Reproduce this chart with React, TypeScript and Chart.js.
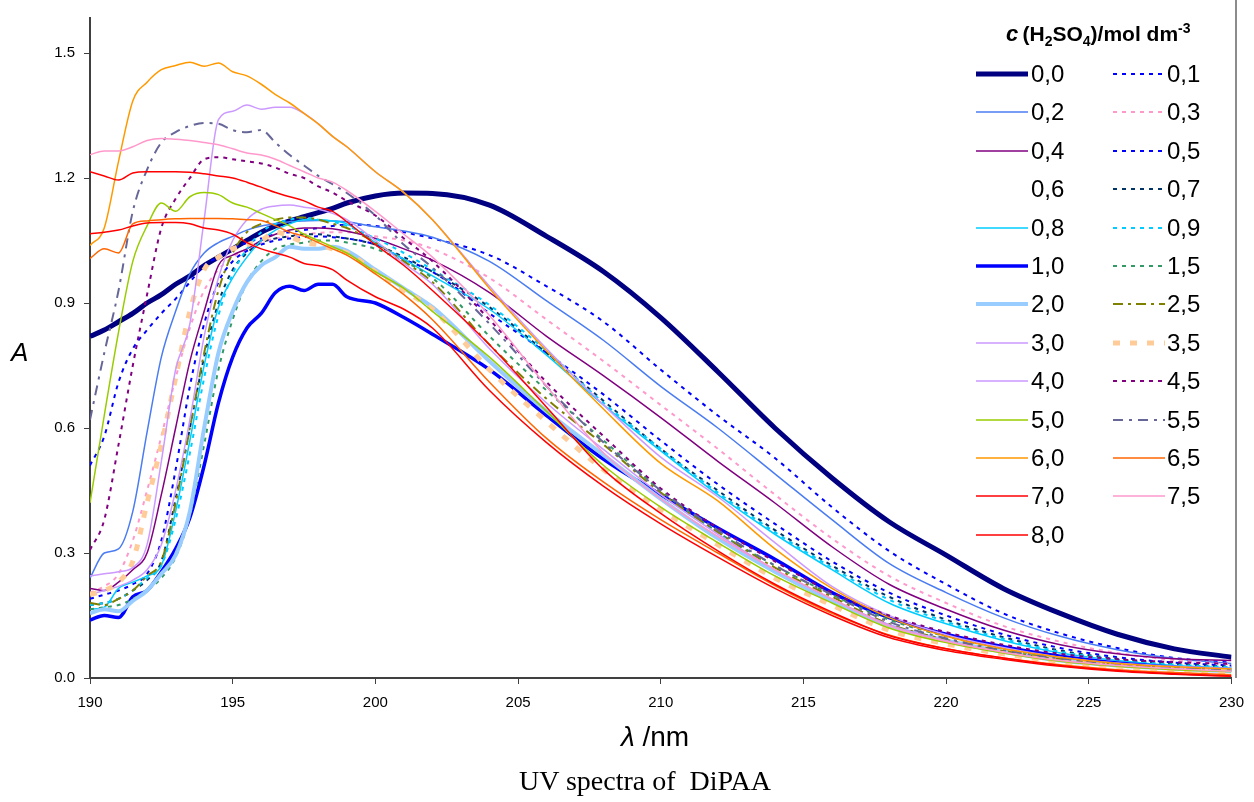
import React, { useEffect, useRef } from "react";
import { Chart, registerables } from "chart.js";
Chart.register(...registerables);

// wavelength grid (nm)
const wavelength = [190,190.5,191,191.5,192,192.5,193,193.5,194,194.5,195,195.5,196,196.5,197,197.5,198,198.5,199,200,201,202,204,206,208,210,212,214,216,218,220,222,224,226,228,230];

// absorbance series, one per H2SO4 concentration
const c00 = [0.82,0.835,0.855,0.875,0.90,0.92,0.945,0.965,0.99,1.01,1.03,1.05,1.07,1.085,1.097,1.107,1.117,1.127,1.14, 1.157,1.164,1.163, 1.135,1.06,0.975,0.865,0.735,0.60,0.48,0.375,0.295,0.215,0.155,0.105,0.07,0.05];
const c01 = [0.51,0.58,0.71,0.79,0.835,0.875,0.91,0.95,0.99,1.01,1.03,1.045,1.055,1.065,1.07,1.075,1.08,1.085,1.088, 1.085,1.07,1.055, 1.015,0.94,0.855,0.74,0.63,0.528,0.41,0.305,0.225,0.155,0.107,0.072,0.048,0.037];
const c02 = [0.24,0.30,0.31,0.40,0.59,0.77,0.88,0.97,1.02,1.045,1.06,1.075,1.085,1.09,1.095,1.097,1.098,1.097,1.095, 1.083,1.073,1.058, 1.0,0.905,0.81,0.70,0.60,0.49,0.38,0.275,0.205,0.145,0.10,0.068,0.047,0.035];
const c03 = [0.205,0.22,0.25,0.33,0.45,0.58,0.72,0.84,0.93,0.98,1.01,1.03,1.045,1.055,1.06,1.065,1.068,1.07,1.07, 1.06,1.05,1.03, 0.96,0.86,0.76,0.655,0.55,0.44,0.335,0.245,0.18,0.125,0.087,0.06,0.043,0.033];
const c04 = [0.215,0.21,0.23,0.26,0.30,0.44,0.60,0.76,0.88,0.99,1.015,1.03,1.05,1.065,1.075,1.08,1.08,1.078,1.072, 1.055,1.03,1.003, 0.925,0.82,0.725,0.625,0.52,0.42,0.315,0.225,0.165,0.115,0.08,0.058,0.046,0.042];
const c05 = [0.19,0.20,0.21,0.225,0.25,0.33,0.50,0.70,0.85,0.95,1.0,1.025,1.04,1.05,1.055,1.058,1.06,1.058,1.055, 1.04,1.005,0.975, 0.875,0.78,0.68,0.57,0.465,0.37,0.28,0.205,0.15,0.105,0.072,0.05,0.037,0.03];
const c06: number[] = [];
const c07 = [0.175,0.18,0.19,0.21,0.235,0.28,0.43,0.60,0.77,0.90,0.98,1.02,1.045,1.055,1.06,1.065,1.065,1.06,1.055, 1.04,1.01,0.975, 0.89,0.78,0.665,0.55,0.45,0.355,0.27,0.195,0.14,0.098,0.066,0.046,0.034,0.027];
const c08 = [0.165,0.17,0.215,0.23,0.245,0.27,0.40,0.57,0.75,0.89,0.96,1.01,1.05,1.075,1.09,1.1,1.1,1.097,1.09, 1.045,1.005,0.965, 0.885,0.775,0.655,0.545,0.44,0.345,0.26,0.18,0.13,0.09,0.06,0.042,0.03,0.024];
const c09 = [0.175,0.18,0.19,0.21,0.24,0.27,0.38,0.54,0.72,0.87,0.97,1.03,1.07,1.09,1.10,1.105,1.10,1.095,1.085, 1.055,1.02,0.98, 0.895,0.785,0.66,0.55,0.445,0.35,0.265,0.188,0.135,0.094,0.063,0.044,0.032,0.026];
const c10 = [0.139,0.15,0.145,0.195,0.21,0.255,0.31,0.385,0.51,0.66,0.77,0.84,0.875,0.925,0.94,0.93,0.945,0.945,0.915, 0.90,0.865,0.825, 0.74,0.63,0.525,0.44,0.36,0.285,0.205,0.145,0.105,0.075,0.052,0.036,0.026,0.02];
const c15 = [0.165,0.17,0.175,0.19,0.21,0.24,0.29,0.39,0.56,0.74,0.86,0.95,1.0,1.03,1.04,1.045,1.05,1.05,1.045, 1.03,1.0,0.96, 0.82,0.69,0.57,0.45,0.35,0.27,0.2,0.14,0.1,0.07,0.048,0.034,0.026,0.02];
const c20 = [0.155,0.165,0.16,0.185,0.21,0.25,0.295,0.40,0.60,0.78,0.88,0.95,0.99,1.01,1.035,1.03,1.03,1.035,1.025, 0.98,0.935,0.89, 0.76,0.64,0.535,0.43,0.335,0.255,0.185,0.125,0.09,0.063,0.042,0.03,0.022,0.016];
const c25 = [0.18,0.175,0.19,0.21,0.245,0.28,0.42,0.60,0.78,0.93,1.02,1.07,1.09,1.1,1.105,1.105,1.1,1.09,1.08, 1.045,1.0,0.95, 0.80,0.67,0.56,0.445,0.35,0.265,0.195,0.13,0.092,0.065,0.045,0.032,0.024,0.018];
const c30 = [0.2,0.21,0.22,0.235,0.26,0.32,0.45,0.62,0.82,0.96,1.05,1.1,1.125,1.133,1.135,1.13,1.125,1.115,1.1, 1.05,0.995,0.945, 0.79,0.66,0.548,0.44,0.345,0.26,0.19,0.128,0.09,0.062,0.042,0.03,0.022,0.016];
const c35 = [0.2,0.21,0.23,0.28,0.42,0.56,0.72,0.88,0.98,1.01,1.03,1.04,1.05,1.07,1.06,1.045,1.04,1.03,1.02, 0.975,0.93,0.885, 0.74,0.615,0.50,0.405,0.32,0.24,0.175,0.115,0.082,0.058,0.04,0.028,0.02,0.015];
const c40 = [0.245,0.25,0.255,0.265,0.32,0.52,0.74,0.85,1.1,1.34,1.36,1.375,1.365,1.37,1.37,1.355,1.33,1.30,1.275, 1.215,1.165,1.10, 0.94,0.79,0.655,0.53,0.435,0.325,0.22,0.15,0.104,0.073,0.05,0.036,0.028,0.023];
const c45 = [0.307,0.38,0.56,0.75,0.92,1.08,1.15,1.2,1.245,1.25,1.245,1.24,1.235,1.225,1.21,1.2,1.18,1.165,1.145, 1.11,1.055,1.0, 0.86,0.71,0.58,0.455,0.36,0.28,0.205,0.15,0.11,0.08,0.058,0.045,0.038,0.034];
const c50 = [0.42,0.63,0.83,1.0,1.085,1.14,1.12,1.155,1.165,1.16,1.14,1.13,1.115,1.1,1.085,1.065,1.05,1.035,1.02, 0.975,0.935,0.88, 0.77,0.64,0.51,0.41,0.325,0.245,0.18,0.12,0.085,0.06,0.04,0.028,0.02,0.015];
const c55 = [0.62,0.78,0.93,1.12,1.22,1.285,1.31,1.325,1.332,1.33,1.315,1.31,1.315,1.285,1.255,1.23,1.205,1.185,1.164, 1.11,1.04,0.985, 0.85,0.70,0.565,0.45,0.355,0.27,0.2,0.135,0.095,0.067,0.047,0.034,0.026,0.02];
const c60 = [1.038,1.08,1.24,1.385,1.43,1.46,1.47,1.478,1.468,1.476,1.455,1.445,1.425,1.40,1.38,1.355,1.33,1.30,1.275, 1.215,1.165,1.10, 0.935,0.785,0.645,0.515,0.425,0.31,0.215,0.145,0.1,0.07,0.05,0.035,0.027,0.022];
const c65 = [1.007,1.03,1.02,1.09,1.097,1.1,1.102,1.103,1.103,1.103,1.102,1.1,1.098,1.085,1.07,1.06,1.045,1.03,1.015, 0.97,0.92,0.86, 0.71,0.575,0.47,0.38,0.3,0.222,0.155,0.103,0.07,0.048,0.032,0.02,0.013,0.008];
const c70 = [1.215,1.205,1.195,1.212,1.215,1.215,1.215,1.214,1.21,1.205,1.2,1.19,1.178,1.165,1.155,1.145,1.13,1.12,1.095, 1.04,0.99,0.93, 0.80,0.65,0.50,0.395,0.305,0.225,0.158,0.102,0.07,0.048,0.03,0.018,0.01,0.005];
const c75 = [1.256,1.265,1.265,1.275,1.29,1.295,1.293,1.29,1.285,1.28,1.27,1.26,1.255,1.245,1.23,1.215,1.2,1.19,1.17, 1.12,1.065,1.01, 0.87,0.70,0.54,0.43,0.34,0.26,0.19,0.125,0.088,0.062,0.042,0.03,0.022,0.016];
const c80 = [1.066,1.07,1.075,1.085,1.092,1.093,1.093,1.09,1.08,1.075,1.065,1.045,1.03,1.02,1.01,0.995,0.99,0.98,0.955, 0.915,0.885,0.84, 0.69,0.565,0.46,0.37,0.29,0.215,0.15,0.097,0.066,0.045,0.028,0.016,0.009,0.004];

const concentrationLabels = ["0,0","0,1","0,2","0,3","0,4","0,5","0,6","0,7","0,8","0,9","1,0","1,5","2,0","2,5","3,0","3,5","4,0","4,5","5,0","5,5","6,0","6,5","7,0","7,5","8,0"];
const yTicks = [0, 0.3, 0.6, 0.9, 1.2, 1.5];

const seriesValues = [c00,c01,c02,c03,c04,c05,c06,c07,c08,c09,c10,c15,c20,c25,c30,c35,c40,c45,c50,c55,c60,c65,c70,c75,c80];

type Style = { color: string; width: number; dash: number[] };
const styles: Style[] = [
  { color: "#000080", width: 5, dash: [] },
  { color: "#0000FF", width: 2, dash: [4, 5] },
  { color: "#4A7CF2", width: 1.5, dash: [] },
  { color: "#FF99CC", width: 2, dash: [4, 5] },
  { color: "#800080", width: 1.5, dash: [] },
  { color: "#0000FF", width: 2, dash: [4, 5] },
  { color: "rgba(0,0,0,0)", width: 0, dash: [] },
  { color: "#003366", width: 2, dash: [4, 5] },
  { color: "#00CCFF", width: 1.5, dash: [] },
  { color: "#00CCFF", width: 2, dash: [4, 5] },
  { color: "#0000FF", width: 3.5, dash: [] },
  { color: "#339966", width: 2, dash: [4, 5] },
  { color: "#99CCFF", width: 4, dash: [] },
  { color: "#808000", width: 2, dash: [10, 5, 3, 5] },
  { color: "#CC99FF", width: 1.5, dash: [] },
  { color: "#FFCC99", width: 5, dash: [7, 10] },
  { color: "#CC99FF", width: 1.5, dash: [] },
  { color: "#800080", width: 2, dash: [4, 5] },
  { color: "#99CC00", width: 1.5, dash: [] },
  { color: "#666699", width: 2, dash: [10, 6, 3, 6] },
  { color: "#FF9900", width: 1.5, dash: [] },
  { color: "#FF6600", width: 1.5, dash: [] },
  { color: "#FF0000", width: 1.5, dash: [] },
  { color: "#FF99CC", width: 1.5, dash: [] },
  { color: "#FF0000", width: 1.5, dash: [] },
];

const SANS = '"Liberation Sans", Arial, sans-serif';

const frame = {
  id: "frameLine",
  afterDraw(chart: any) {
    const { ctx, chartArea } = chart;
    ctx.save();
    ctx.strokeStyle = "#8c8c8c";
    ctx.lineWidth = 2;
    ctx.beginPath();
    ctx.moveTo(1236, 0);
    ctx.lineTo(1236, chartArea.bottom);
    ctx.stroke();
    ctx.restore();
  },
};

export default function App() {
  const ref = useRef<HTMLCanvasElement>(null);
  useEffect(() => {
    document.body.style.margin = "0";
    const datasets = seriesValues.map((vals, i) => ({
      label: concentrationLabels[i],
      data: vals.map((v, k) => ({ x: wavelength[k], y: v })),
      borderColor: styles[i].color,
      borderWidth: styles[i].width,
      borderDash: styles[i].dash,
      pointRadius: 0,
      fill: false,
      cubicInterpolationMode: "monotone" as const,
      order: -i,
    }));
    const chart = new Chart(ref.current!, {
      type: "line",
      data: { datasets },
      options: {
        animation: false,
        responsive: false,
        layout: { padding: { left: 0, top: 5, right: 18, bottom: 94 } },
        plugins: { legend: { display: false }, tooltip: { enabled: false } },
        scales: {
          x: {
            type: "linear",
            min: 190,
            max: 230,
            afterFit: (s: any) => { s.height = 30; },
            ticks: { stepSize: 5, color: "#000", font: { family: SANS, size: 15 }, padding: 10, maxRotation: 0 },
            grid: { display: true, drawOnChartArea: false, drawTicks: true, tickLength: 6, color: "#404040" },
            border: { display: true, color: "#404040", width: 2 },
          },
          y: {
            type: "linear",
            min: 0,
            max: 1.584,
            afterFit: (s: any) => { s.width = 90; },
            afterBuildTicks: (s: any) => { s.ticks = yTicks.map((v) => ({ value: v })); },
            ticks: { color: "#000", font: { family: SANS, size: 15 }, padding: 9, callback: (v: any) => Number(v).toFixed(1) },
            grid: { display: true, drawOnChartArea: false, drawTicks: true, tickLength: 6, color: "#404040" },
            border: { display: true, color: "#404040", width: 2 },
          },
        },
      },
      plugins: [frame],
    });
    return () => chart.destroy();
  }, []);

  const legendRow0 = 74;
  const rowGap = 38.4;
  return (
    <div style={{ position: "relative", width: 1254, height: 802, background: "#fff", overflow: "hidden" }}>
      <canvas ref={ref} width={1254} height={802} style={{ position: "absolute", left: 0, top: 0, width: 1254, height: 802 }} />
      <div style={{ position: "absolute", left: 11, top: 337, fontFamily: SANS, fontStyle: "italic", fontSize: 26, color: "#000" }}>A</div>
      <div style={{ position: "absolute", left: 0, width: 1310, top: 720, textAlign: "center", fontFamily: SANS, fontSize: 28, color: "#000", lineHeight: "34px" }}>
        <span style={{ fontStyle: "italic" }}>λ</span> /nm
      </div>
      <div style={{ position: "absolute", left: 0, width: 1290, top: 765, textAlign: "center", fontFamily: '"Liberation Serif", "Times New Roman", serif', fontSize: 28, color: "#000", whiteSpace: "pre" }}>
        UV spectra of  DiPAA
      </div>
      <div style={{ position: "absolute", left: 1006, top: 20, fontFamily: SANS, fontWeight: "bold", fontSize: 21, color: "#000", whiteSpace: "nowrap" }}>
        <span style={{ fontStyle: "italic", fontSize: 22 }}>c</span>{"\u2009"}(H<sub style={{ fontSize: 14 }}>2</sub>SO<sub style={{ fontSize: 14 }}>4</sub>)/mol dm<sup style={{ fontSize: 14 }}>-3</sup>
      </div>
      {concentrationLabels.map((lab, i) => {
        const row = Math.floor(i / 2);
        const col = i % 2;
        const cy = legendRow0 + row * rowGap;
        const lx = col === 0 ? 976 : 1113;
        const tx = col === 0 ? 1031 : 1167;
        const st = styles[i];
        return (
          <React.Fragment key={lab}>
            <svg style={{ position: "absolute", left: lx, top: cy - 6 }} width={52} height={12}>
              {st.width > 0 && (
                <line x1={0} y1={6} x2={52} y2={6} stroke={st.color} strokeWidth={st.width} strokeDasharray={st.dash.length ? st.dash.join(",") : undefined} />
              )}
            </svg>
            <div style={{ position: "absolute", left: tx, top: cy - 14, fontFamily: SANS, fontSize: 24, lineHeight: "28px", color: "#000" }}>{lab}</div>
          </React.Fragment>
        );
      })}
    </div>
  );
}
